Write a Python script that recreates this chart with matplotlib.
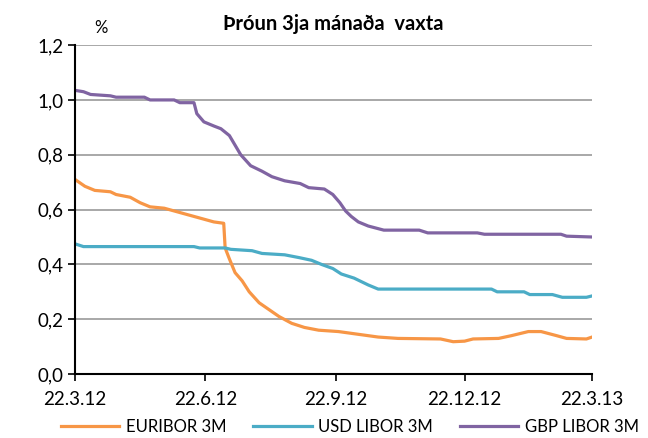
import pandas as pd
import matplotlib.pyplot as plt

plt.rcParams['font.family'] = ['Lato', 'DejaVu Sans']

euribor_dates = ['2012-03-22', '2012-03-29', '2012-04-05', '2012-04-16', '2012-04-20', '2012-04-30',
                 '2012-05-07', '2012-05-14', '2012-05-24', '2012-05-31', '2012-06-07', '2012-06-14',
                 '2012-06-21', '2012-06-28', '2012-07-05', '2012-07-06', '2012-07-09', '2012-07-13',
                 '2012-07-18', '2012-07-23', '2012-07-30', '2012-08-06', '2012-08-13', '2012-08-22',
                 '2012-08-31', '2012-09-10', '2012-09-24', '2012-10-08', '2012-10-22', '2012-11-05',
                 '2012-12-05', '2012-12-14', '2012-12-22', '2012-12-28', '2013-01-15', '2013-01-24',
                 '2013-02-05', '2013-02-14', '2013-02-25', '2013-03-04', '2013-03-18', '2013-03-22']
euribor = [0.71, 0.685, 0.67, 0.665, 0.655, 0.645, 0.625, 0.61, 0.605, 0.595, 0.585, 0.575,
           0.565, 0.555, 0.55, 0.46, 0.42, 0.37, 0.34, 0.30, 0.26, 0.235, 0.21, 0.185,
           0.17, 0.16, 0.155, 0.145, 0.135, 0.13, 0.128, 0.118, 0.12, 0.128, 0.13, 0.14,
           0.155, 0.155, 0.14, 0.13, 0.128, 0.135]

usd_dates = ['2012-03-22', '2012-03-28', '2012-06-14', '2012-06-18', '2012-07-06', '2012-07-10',
             '2012-07-25', '2012-08-01', '2012-08-17', '2012-08-27', '2012-09-05', '2012-09-12',
             '2012-09-20', '2012-09-26', '2012-10-05', '2012-10-15', '2012-10-22', '2012-11-20',
             '2013-01-10', '2013-01-14', '2013-02-02', '2013-02-06', '2013-02-22', '2013-03-01',
             '2013-03-18', '2013-03-22']
usd_libor = [0.475, 0.465, 0.465, 0.46, 0.46, 0.455, 0.45, 0.44, 0.435, 0.425, 0.415, 0.40,
             0.385, 0.365, 0.35, 0.325, 0.31, 0.31, 0.31, 0.30, 0.30, 0.29, 0.29, 0.28,
             0.28, 0.285]

gbp_dates = ['2012-03-22', '2012-03-28', '2012-04-02', '2012-04-16', '2012-04-20', '2012-05-10',
             '2012-05-14', '2012-05-31', '2012-06-04', '2012-06-14', '2012-06-16', '2012-06-21',
             '2012-06-28', '2012-07-03', '2012-07-09', '2012-07-13', '2012-07-17', '2012-07-24',
             '2012-08-01', '2012-08-08', '2012-08-17', '2012-08-28', '2012-09-03', '2012-09-14',
             '2012-09-20', '2012-09-25', '2012-09-29', '2012-10-03', '2012-10-08', '2012-10-15',
             '2012-10-26', '2012-11-20', '2012-11-26', '2012-12-31', '2013-01-05', '2013-02-28',
             '2013-03-04', '2013-03-22']
gbp_libor = [1.035, 1.03, 1.02, 1.015, 1.01, 1.01, 1.00, 1.00, 0.99, 0.99, 0.95, 0.92,
             0.905, 0.895, 0.87, 0.835, 0.80, 0.76, 0.74, 0.72, 0.705, 0.695, 0.68, 0.675,
             0.655, 0.625, 0.595, 0.575, 0.555, 0.54, 0.525, 0.525, 0.515, 0.515, 0.51, 0.51,
             0.503, 0.50]

tick_dates = ['2012-03-22', '2012-06-22', '2012-09-22', '2012-12-22', '2013-03-22']
tick_labels = ['22.3.12', '22.6.12', '22.9.12', '22.12.12', '22.3.13']
y_ticks = [0.0, 0.2, 0.4, 0.6, 0.8, 1.0, 1.2]

fig = plt.figure(figsize=(6.48, 4.38), dpi=100)
ax = fig.add_axes([0.1157, 0.146, 0.798, 0.751])

ax.plot(pd.to_datetime(euribor_dates), euribor, color='#F79646', lw=2.3, label='EURIBOR 3M')
ax.plot(pd.to_datetime(usd_dates), usd_libor, color='#4BACC6', lw=2.3, label='USD LIBOR 3M')
ax.plot(pd.to_datetime(gbp_dates), gbp_libor, color='#8064A2', lw=2.3, label='GBP LIBOR 3M')

ax.set_xlim(pd.Timestamp('2012-03-22'), pd.Timestamp('2013-03-22'))
ax.set_ylim(0, 1.2)
ax.set_xticks(pd.to_datetime(tick_dates))
ax.set_xticklabels(tick_labels)
ax.set_yticks(y_ticks)
ax.set_yticklabels([f'{v:.1f}'.replace('.', ',') for v in y_ticks])
ax.tick_params(labelsize=13.5, length=5, width=1.2, colors='black')
ax.tick_params(axis='x', pad=7)

for v in y_ticks[1:]:
    ax.axhline(v, color='#999999', lw=1.2, zorder=0)

for s in ['top', 'right']:
    ax.spines[s].set_visible(False)
for s in ['left', 'bottom']:
    ax.spines[s].set_linewidth(1.5)

ax.set_title('Þróun 3ja mánaða  vaxta', fontsize=14.5, fontweight='bold', pad=11)
fig.text(0.155, 0.925, '%', fontsize=12, ha='center')

fig.legend(loc='center', bbox_to_anchor=(0.54, 0.025), ncol=3, frameon=False,
           fontsize=12, handlelength=3.5, columnspacing=1.6, handletextpad=0.4,
           borderpad=0.1)

fig.savefig('out.png', dpi=100)
